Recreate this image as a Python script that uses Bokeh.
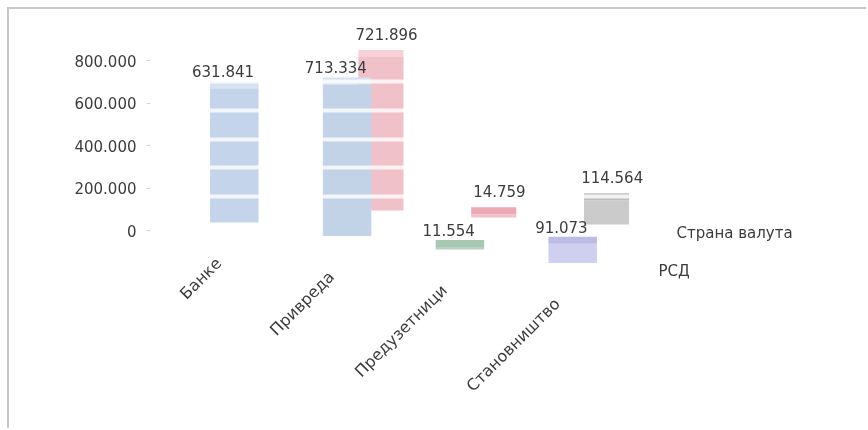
import math
import numpy as np
from bokeh.plotting import figure
from bokeh.models import Range1d, FixedTicker, Grid
from bokeh.core.properties import value
from bokeh.embed import file_html
from bokeh.resources import INLINE

# --- data -------------------------------------------------------------
categories = ["Банке", "Привреда", "Предузетници", "Становништво"]
rsd = [631841, 713334, 11554, 91073]          # front row
foreign = [None, 721896, 14759, 114564]        # back row
series_names = ["РСД", "Страна валута"]
y_ticks = [0, 200000, 400000, 600000, 800000]

# --- styling / pseudo-3D layout ----------------------------------------
FONT = "DejaVu Sans"
TEXT_COLOR = "#3c3c3c"
front_colors = ["#c4d4ea", "#c2d3e8", "#b8d2c2", "#cfd0f0"]
back_colors = ["#f1c3cb", "#f0c1c9", "#f2c0c8", "#cbcbcb"]
front_top_colors = ["#d6e1f1", "#d4e0ef", "#a9c8b4", "#bcbde6"]
back_top_colors = ["#f6d3d9", "#f6d2d8", "#eaa9b4", "#bdbdbd"]

U = 800000 / 170            # data units per vertical pixel
CAT_PX = 112.8              # pixels between categories
BAR_W = 0.43
BACK_W = 0.40
BACK_DX = 0.30              # back row drawn further right ...
FRONT_LIFT, FRONT_TILT = 8, 13.5   # ... and the floor slopes downward (px)
BACK_LIFT, BACK_TILT = 27, 7
FACE_PX = 7                 # depth of the column top faces


def fmt(v):
    return f"{v:,}".replace(",", ".")


def front_base(i):
    return (FRONT_LIFT - FRONT_TILT * i) * U


def back_base(i):
    return (BACK_LIFT - BACK_TILT * i) * U


W, H = 859, 421
LEFT = 141
ZERO_FROM_TOP = 221
x_start = -(233.8 - 150) / CAT_PX
x_end = x_start + (W - LEFT) / CAT_PX

p = figure(
    width=W, height=H,
    x_range=Range1d(x_start, x_end),
    y_range=Range1d(-(H - ZERO_FROM_TOP) * U, ZERO_FROM_TOP * U),
    x_axis_location=None,
    output_backend="svg", toolbar_location=None,
    min_border_left=LEFT, min_border_right=0,
    min_border_top=0, min_border_bottom=0,
)
p.outline_line_color = None
p.xgrid.visible = False
p.ygrid.visible = False
# chart area framed by a thin grey edge on the left and top
p.styles = {
    "position": "fixed", "left": "7px", "top": "7px",
    "border-left": "2px solid #c8c8c8", "border-top": "2px solid #c8c8c8",
}

# value axis
ax = p.yaxis[0]
ax.ticker = FixedTicker(ticks=y_ticks)
ax.major_label_overrides = {t: fmt(t) for t in y_ticks}
ax.axis_line_color = None
ax.minor_tick_line_color = None
ax.major_tick_line_color = "#d8d8d8"
ax.major_tick_in = 0
ax.major_tick_out = 4
ax.major_label_standoff = 10
ax.major_label_text_font = FONT
ax.major_label_text_font_size = "15px"
ax.major_label_text_color = TEXT_COLOR

n = len(categories)
idx = list(range(n))

# back row (Страна валута)
bk = [i for i in range(n) if foreign[i] is not None]
bx = [i + BACK_DX for i in bk]
bb = [back_base(i) for i in bk]
bt = [back_base(i) + foreign[i] for i in bk]
p.vbar(x=bx, width=BACK_W, bottom=bb, top=bt,
       fill_color=[back_colors[i] for i in bk], line_color=None)
p.vbar(x=bx, width=BACK_W, bottom=bt, top=[t + FACE_PX * U for t in bt],
       fill_color=[back_top_colors[i] for i in bk], line_color=None)

# front row (РСД)
fb = [front_base(i) for i in idx]
ft = [front_base(i) + rsd[i] for i in idx]
p.vbar(x=idx, width=BAR_W, bottom=fb, top=ft,
       fill_color=front_colors, line_color=None)
p.vbar(x=idx, width=BAR_W, bottom=ft, top=[t + FACE_PX * U for t in ft],
       fill_color=front_top_colors, line_color=None)

# light banding across the columns
stripes = list(np.arange(160000, 800000, 135000))
p.add_layout(Grid(dimension=1, ticker=FixedTicker(ticks=stripes),
                  grid_line_color="white", grid_line_width=4,
                  grid_line_alpha=0.8, level="guide"))

text_kw = dict(text_font=value(FONT), text_color=TEXT_COLOR)

# value labels
r1 = p.text(x=[i - 0.1 for i in idx], y=ft, text=[fmt(v) for v in rsd],
            text_align="center", text_baseline="bottom", y_offset=-11,
            text_font_size="15px", **text_kw)
r2 = p.text(x=[v + 0.05 for v in bx], y=bt, text=[fmt(foreign[i]) for i in bk],
            text_align="center", text_baseline="bottom", y_offset=-17,
            text_font_size="15px", **text_kw)

# category labels along the sloping floor edge
r3 = p.text(x=[i - 0.14 for i in idx], y=[front_base(i) - 38 * U for i in idx],
            text=categories, angle=math.pi / 4, text_align="right",
            text_baseline="middle", text_font_size="16px", **text_kw)

# series (depth) labels
r4 = p.text(x=[n - 0.24, n - 0.08], y=[front_base(n) + 6 * U, back_base(n) - 1 * U],
            text=series_names, text_align="left", text_baseline="middle",
            text_font_size="15px", **text_kw)

for r in (r1, r2, r3, r4):
    r.level = "overlay"

open("out.html", "w").write(file_html(p, INLINE))
